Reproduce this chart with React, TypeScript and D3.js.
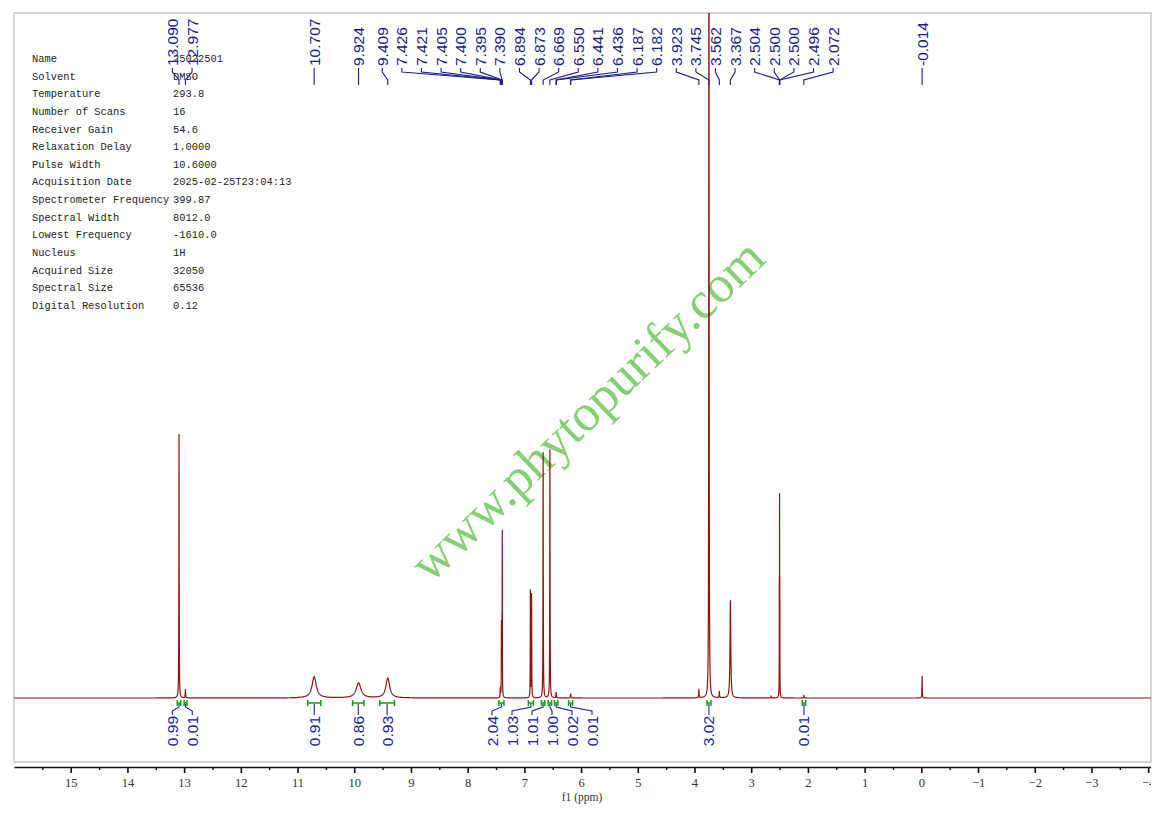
import React, { useEffect, useRef } from 'react';
import * as d3 from 'd3';

// acquisition parameters (left table)
const paramNames = [
  'Name', 'Solvent', 'Temperature', 'Number of Scans', 'Receiver Gain', 'Relaxation Delay',
  'Pulse Width', 'Acquisition Date', 'Spectrometer Frequency', 'Spectral Width',
  'Lowest Frequency', 'Nucleus', 'Acquired Size', 'Spectral Size', 'Digital Resolution',
];
const paramValues = [
  '25022501', 'DMSO', '293.8', '16', '54.6', '1.0000', '10.6000', '2025-02-25T23:04:13',
  '399.87', '8012.0', '-1610.0', '1H', '32050', '65536', '0.12',
];

// spectrum lines: position (ppm), height (arb. units), half width (ppm)
const linePpm = [13.090, 12.977, 10.707, 9.924, 9.409, 7.426, 7.421, 7.405, 7.400, 7.395, 7.390,
  6.894, 6.873, 6.669, 6.550, 6.441, 6.436, 6.187, 6.182, 3.923, 3.745, 3.562, 3.367,
  2.650, 2.504, 2.500, 2.496, 2.072, -0.014];
const lineHeight = [38.5, 1.2, 3.1, 2.2, 2.9, 1.0, 1.2, 9.9, 5.0, 8.0, 23.0,
  15.6, 15.0, 35.8, 36.2, 0.6, 0.6, 0.45, 0.45, 1.2, 160, 0.9, 14.2,
  0.3, 14, 26.4, 14, 0.4, 3.2];
const lineWidth = [0.003, 0.004, 0.045, 0.05, 0.04, 0.002, 0.002, 0.002, 0.002, 0.002, 0.002,
  0.0025, 0.0025, 0.003, 0.003, 0.003, 0.003, 0.003, 0.003, 0.004, 0.003, 0.004, 0.008,
  0.004, 0.0015, 0.0015, 0.0015, 0.004, 0.003];

// picked peak labels
const peakLabels = [13.090, 12.977, 10.707, 9.924, 9.409, 7.426, 7.421, 7.405, 7.400, 7.395, 7.390,
  6.894, 6.873, 6.669, 6.550, 6.441, 6.436, 6.187, 6.182, 3.923, 3.745, 3.562, 3.367,
  2.504, 2.500, 2.500, 2.496, 2.072, -0.014];

// integrals
const integralFrom = [13.12, 13.00, 10.82, 10.03, 9.55, 7.45, 6.93, 6.70, 6.58, 6.47, 6.22, 3.78, 2.10];
const integralTo = [13.06, 12.95, 10.59, 9.83, 9.29, 7.36, 6.84, 6.64, 6.52, 6.41, 6.15, 3.71, 2.04];
const integralValues = ['0.99', '0.01', '0.91', '0.86', '0.93', '2.04', '1.03', '1.01', '1.00', '0.02', '0.01', '3.02', '0.01'];

const majorTicks = [15, 14, 13, 12, 11, 10, 9, 8, 7, 6, 5, 4, 3, 2, 1, 0, -1, -2, -3, -4];
const minorTicks = [15.5, 14.5, 13.5, 12.5, 11.5, 10.5, 9.5, 8.5, 7.5, 6.5, 5.5, 4.5, 3.5, 2.5, 1.5, 0.5, -0.5, -1.5, -2.5, -3.5];

const W = 1159;
const H = 813;
const frame = { left: 14, top: 13, right: 1151, bottom: 762 };
const baseY = 698;
const axisY = 767;
const labelNavy = '#1c1c8c';

// push overlapping labels apart, keeping each cluster centred on its peaks
function spreadLabels(xs: number[], gap: number): number[] {
  const order = xs.map((x, i) => ({ x, i })).sort((a, b) => a.x - b.x);
  const clusters = order.map(o => ({ members: [o], center: o.x }));
  let merged = true;
  while (merged) {
    merged = false;
    for (let k = 0; k < clusters.length - 1; k++) {
      const a = clusters[k];
      const b = clusters[k + 1];
      const aEnd = a.center + ((a.members.length - 1) / 2) * gap;
      const bStart = b.center - ((b.members.length - 1) / 2) * gap;
      if (bStart - aEnd < gap) {
        const members = [...a.members, ...b.members];
        clusters.splice(k, 2, { members, center: d3.mean(members, m => m.x) as number });
        merged = true;
        break;
      }
    }
  }
  const out: number[] = new Array(xs.length);
  clusters.forEach(c =>
    c.members.forEach((m, j) => {
      out[m.i] = c.center + (j - (c.members.length - 1) / 2) * gap;
    }),
  );
  return out;
}

const App: React.FC = () => {
  const ref = useRef<SVGSVGElement>(null);

  useEffect(() => {
    if (!ref.current) return;
    const svg = d3.select(ref.current);
    svg.selectAll('*').remove();

    const x = d3.scaleLinear().domain([16, -4.05]).range([frame.left, frame.right]);
    const y = d3.scaleLinear().domain([0, 100]).range([baseY, frame.top]);

    const defs = svg.append('defs');
    defs.append('clipPath').attr('id', 'plotClip')
      .append('rect')
      .attr('x', frame.left).attr('y', frame.top)
      .attr('width', frame.right - frame.left).attr('height', frame.bottom - frame.top);
    // used inside the translated axis group, so local coordinates
    defs.append('clipPath').attr('id', 'axisClip')
      .append('rect')
      .attr('x', 0).attr('y', -5)
      .attr('width', frame.right).attr('height', 60);

    // frame
    svg.append('rect')
      .attr('x', frame.left).attr('y', frame.top)
      .attr('width', frame.right - frame.left).attr('height', frame.bottom - frame.top)
      .attr('fill', 'none').attr('stroke', '#c6c6c6').attr('stroke-width', 1.5);

    // parameter table
    const table = svg.append('g')
      .attr('font-family', '"Liberation Mono", monospace')
      .attr('font-size', 10.4)
      .attr('fill', '#222');
    paramNames.forEach((name, i) => {
      const ty = 59 + i * 17.64;
      table.append('text').attr('x', 32).attr('y', ty).attr('dominant-baseline', 'central').text(name);
      table.append('text').attr('x', 173).attr('y', ty).attr('dominant-baseline', 'central').text(paramValues[i]);
    });

    // watermark
    svg.append('text')
      .attr('transform', 'translate(588,411) rotate(-43.8)')
      .attr('text-anchor', 'middle')
      .attr('y', 16)
      .attr('font-family', '"Liberation Serif", serif')
      .attr('font-size', 52)
      .attr('fill', '#78cc64')
      .attr('opacity', 0.9)
      .text('www.phytopurify.com');

    // spectrum trace built from the line list
    const samples = d3.range(16, -4.05, -0.003);
    linePpm.forEach((c, i) => {
      const w = lineWidth[i];
      [-4, -2, -1, -0.5, 0, 0.5, 1, 2, 4].forEach(k => samples.push(c + k * w));
    });
    samples.sort((a, b) => b - a);
    const pts: [number, number][] = samples.map(p => {
      let v = 0;
      linePpm.forEach((c, i) => {
        const w = lineWidth[i];
        v += (lineHeight[i] * w * w) / ((p - c) * (p - c) + w * w);
      });
      return [p, v];
    });
    const line = d3.line<[number, number]>().x(d => x(d[0])).y(d => y(d[1]));
    svg.append('path')
      .attr('clip-path', 'url(#plotClip)')
      .attr('d', line(pts) as string)
      .attr('fill', 'none')
      .attr('stroke', '#8e1414')
      .attr('stroke-width', 1.2)
      .attr('stroke-linejoin', 'round');

    // peak labels
    const peakX = peakLabels.map(p => x(p));
    const labelX = spreadLabels(peakX, 19.6);
    const pk = svg.append('g');
    peakLabels.forEach((p, i) => {
      const lx = labelX[i];
      const px = peakX[i];
      pk.append('text')
        .attr('transform', `translate(${lx},66) rotate(-90)`)
        .attr('text-anchor', 'start')
        .attr('dominant-baseline', 'central')
        .attr('font-family', '"Liberation Sans", Arial, sans-serif')
        .attr('font-size', 15.5)
        .attr('fill', labelNavy)
        .text(p.toFixed(3));
      pk.append('path')
        .attr('d', d3.line()([[lx, 68], [lx, 72], [px, 80], [px, 85]]) as string)
        .attr('fill', 'none')
        .attr('stroke', labelNavy)
        .attr('stroke-width', 1.1);
    });

    // integrals
    const intCenters = integralFrom.map((f, i) => (x(f) + x(integralTo[i])) / 2);
    const intLabelX = spreadLabels(intCenters, 20);
    const ig = svg.append('g');
    integralFrom.forEach((f, i) => {
      const x1 = x(f);
      const x2 = x(integralTo[i]);
      const cx = intCenters[i];
      const lx = intLabelX[i];
      ig.append('path')
        .attr('d', `M${x1},700V706M${x1},703H${x2}M${x2},700V706`)
        .attr('fill', 'none')
        .attr('stroke', '#10a010')
        .attr('stroke-width', 1.5);
      ig.append('path')
        .attr('d', d3.line()([[cx, 704], [cx, 707], [lx, 711], [lx, 715]]) as string)
        .attr('fill', 'none')
        .attr('stroke', '#22229a')
        .attr('stroke-width', 1.1);
      ig.append('text')
        .attr('transform', `translate(${lx},716) rotate(-90)`)
        .attr('text-anchor', 'end')
        .attr('dominant-baseline', 'central')
        .attr('font-family', '"Liberation Sans", Arial, sans-serif')
        .attr('font-size', 15.5)
        .attr('fill', '#22229a')
        .text(integralValues[i]);
    });

    // ppm axis
    const axisG = svg.append('g')
      .attr('transform', `translate(0,${axisY})`)
      .attr('clip-path', 'url(#axisClip)');
    axisG.append('g')
      .call(d3.axisBottom(x).tickValues(majorTicks).tickSize(6).tickSizeOuter(0).tickPadding(5)
        .tickFormat(d => d3.format('d')(d as number)))
      .call(g => g.select('.domain').attr('stroke', '#111').attr('stroke-width', 1.6))
      .call(g => g.selectAll('.tick line').attr('stroke', '#111').attr('stroke-width', 1.6))
      .call(g => g.selectAll('.tick text')
        .attr('font-family', '"Liberation Serif", serif')
        .attr('font-size', 12.5)
        .attr('fill', '#333'));
    axisG.append('g')
      .call(d3.axisBottom(x).tickValues(minorTicks).tickSize(3).tickFormat(() => ''))
      .call(g => g.select('.domain').remove())
      .call(g => g.selectAll('.tick line').attr('stroke', '#111').attr('stroke-width', 1.4));

    svg.append('text')
      .attr('x', 582).attr('y', 801)
      .attr('text-anchor', 'middle')
      .attr('font-family', '"Liberation Serif", serif')
      .attr('font-size', 11.5)
      .attr('fill', '#333')
      .text('f1 (ppm)');
  }, []);

  return (
    <svg
      ref={ref}
      width={W}
      height={H}
      style={{ position: 'absolute', left: 0, top: 0, background: '#fff' }}
    />
  );
};

export default App;
